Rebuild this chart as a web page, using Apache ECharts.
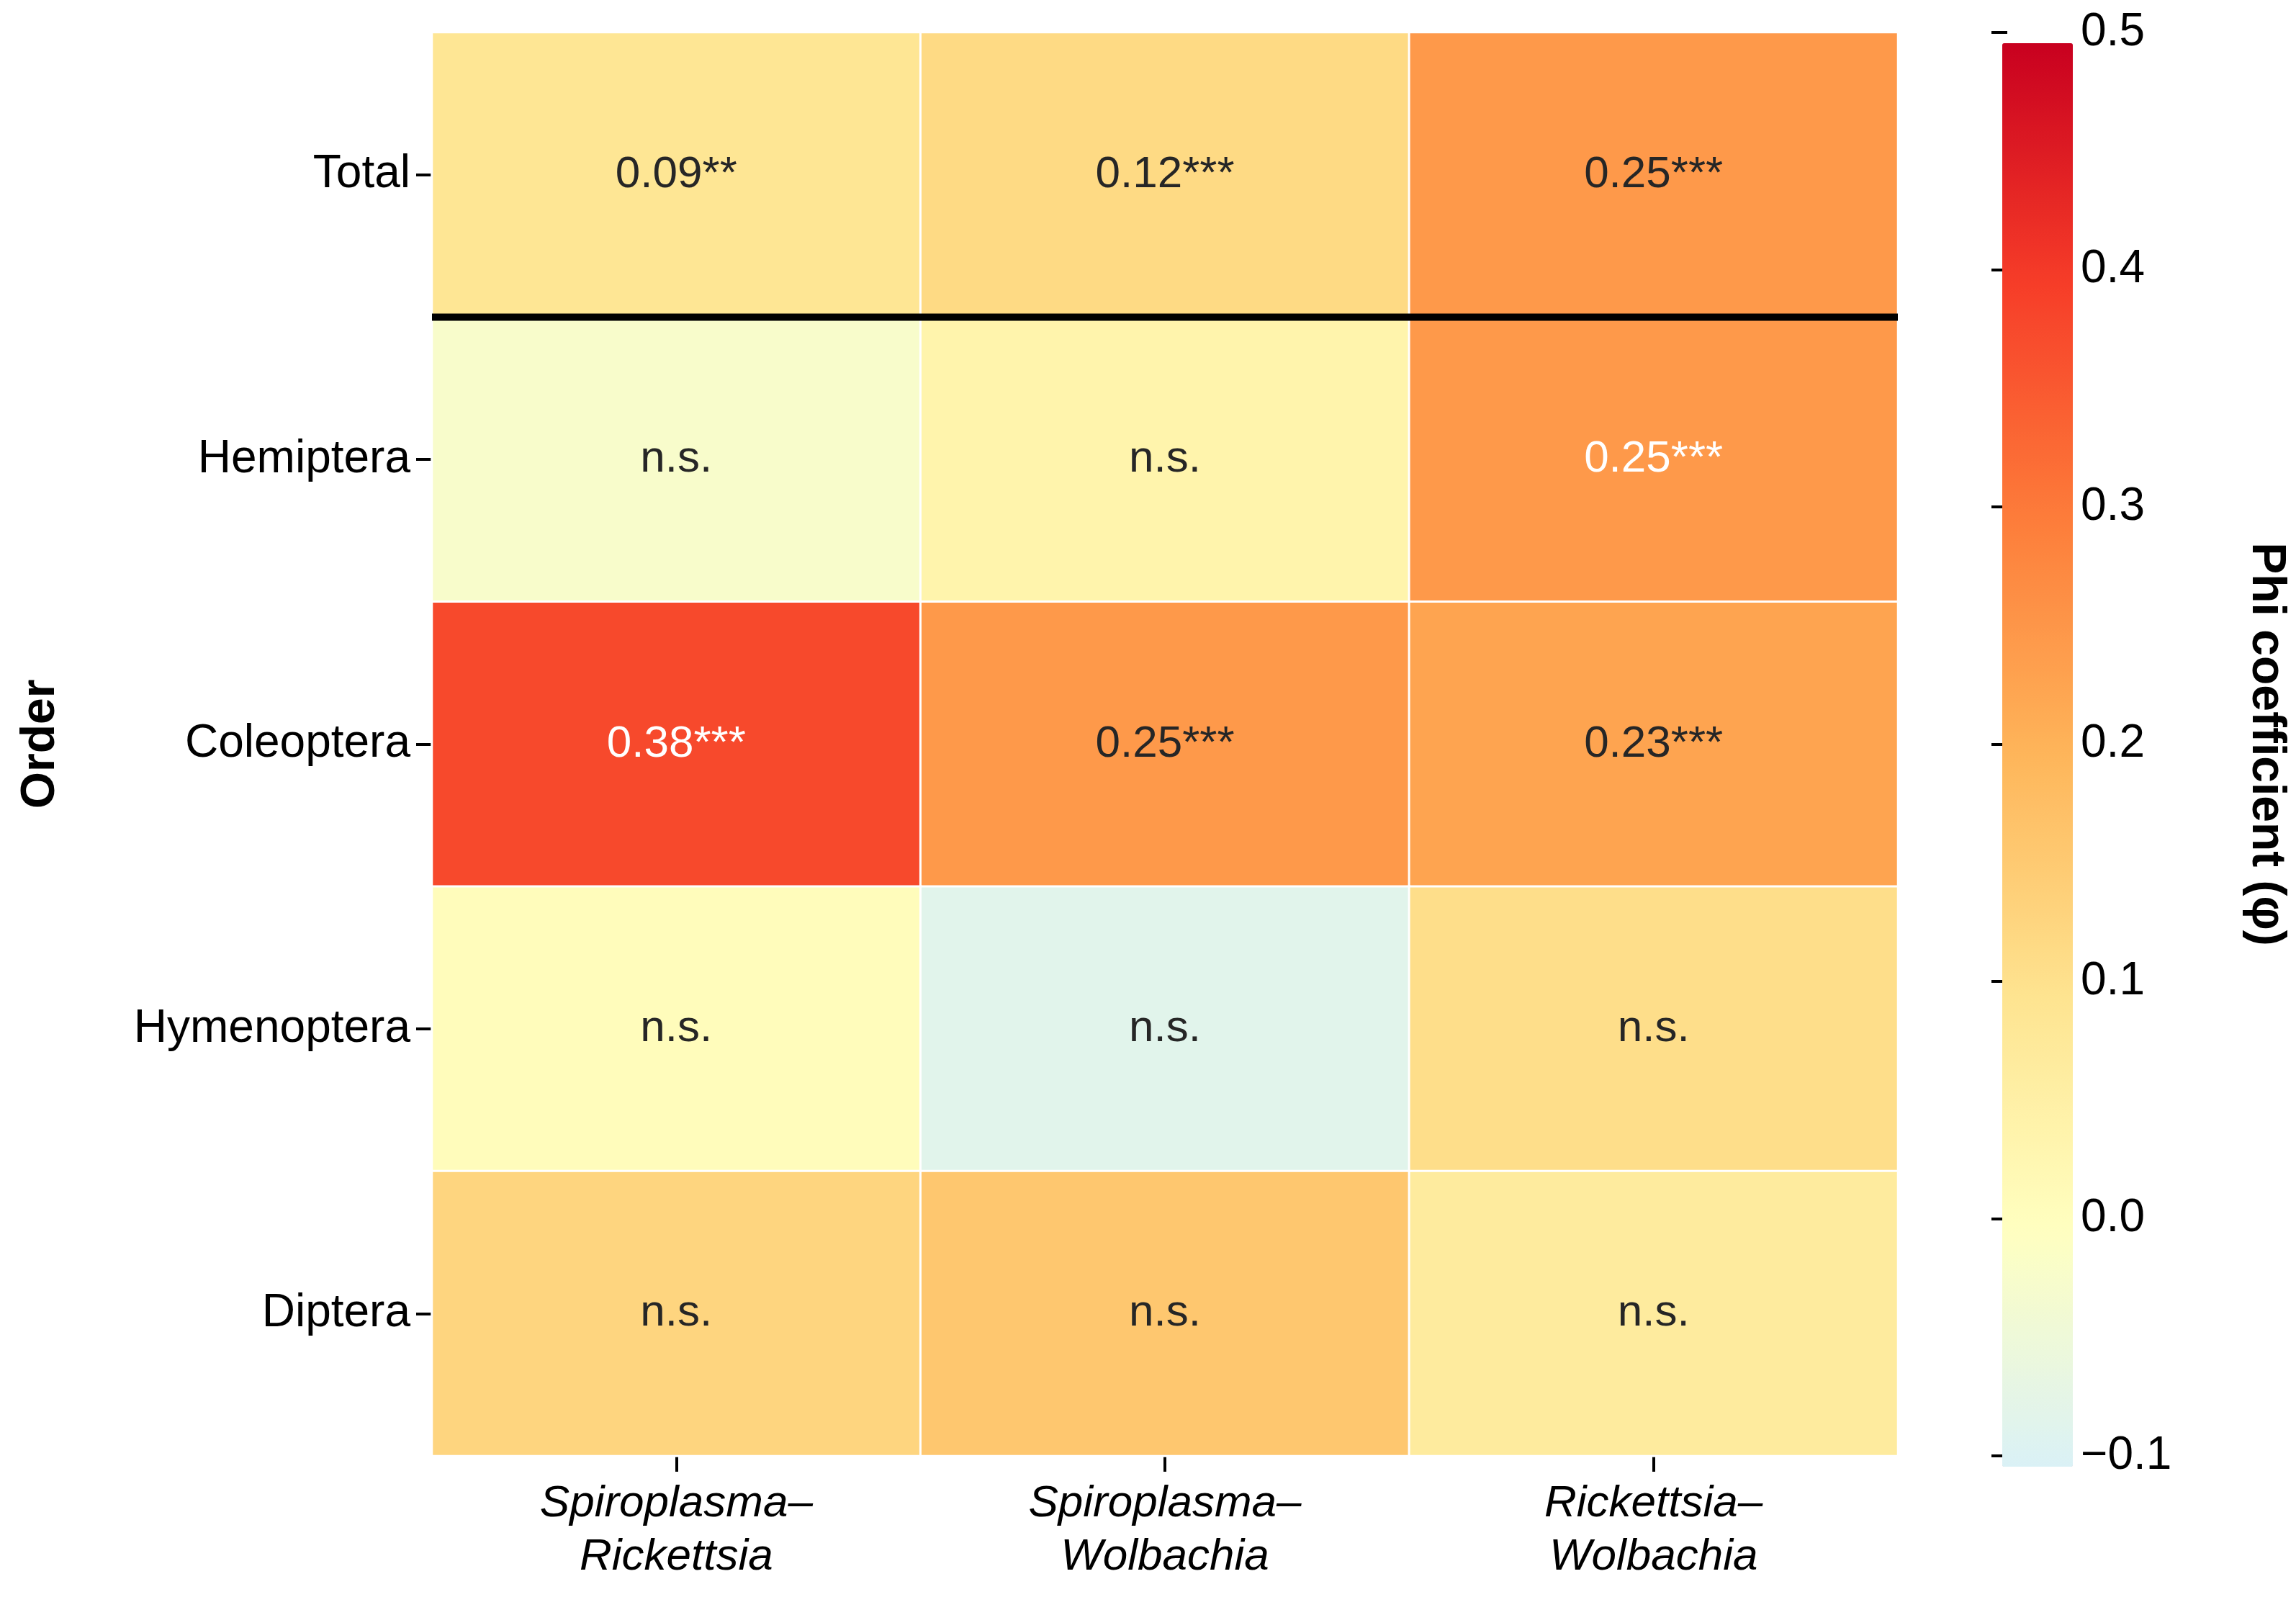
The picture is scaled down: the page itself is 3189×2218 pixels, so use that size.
<!DOCTYPE html>
<html>
<head>
<meta charset="utf-8">
<script src="https://cdn.jsdelivr.net/npm/echarts@6/dist/echarts.min.js"></script>
<style>html,body{margin:0;padding:0;background:#fff}#main{width:3189px;height:2218px}</style>
</head>
<body>
<div id="main"></div>
<script>
var pairs = ["Spiroplasma–\nRickettsia", "Spiroplasma–\nWolbachia", "Rickettsia–\nWolbachia"];
var orders = ["Total", "Hemiptera", "Coleoptera", "Hymenoptera", "Diptera"];
// phi values per order (estimated from colour where not significant)
var phiValues = [
  [0.09, 0.12, 0.25],
  [-0.02, 0.04, 0.25],
  [0.38, 0.25, 0.23],
  [0.01, -0.08, 0.11],
  [0.13, 0.16, 0.07]
];
var cellLabels = [
  ["0.09**", "0.12***", "0.25***"],
  ["n.s.", "n.s.", "0.25***"],
  ["0.38***", "0.25***", "0.23***"],
  ["n.s.", "n.s.", "n.s."],
  ["n.s.", "n.s.", "n.s."]
];
var whiteLabels = [[1, 2], [2, 0]];
var cmap = ["#daf1f6", "#ffffc0", "#fee38f", "#feb55a", "#fd7c3a", "#f63c28", "#c8001f"];

var FONT = "Liberation Sans";
var data = [];
phiValues.forEach(function (row, r) {
  row.forEach(function (v, c) {
    var white = whiteLabels.some(function (w) { return w[0] === r && w[1] === c; });
    data.push({ value: [c, r, v], label: { color: white ? "#fff" : "#262626" }, name: cellLabels[r][c] });
  });
});

var chart = echarts.init(document.getElementById("main"));
var grid0 = { left: 600, width: 2036, top: 45, height: 1977 };
chart.setOption({
  backgroundColor: "#fff",
  animation: false,
  grid: [
    grid0,
    { left: 2766, width: 98, top: 45, height: 1977 }
  ],
  xAxis: [
    {
      type: "category", data: pairs, gridIndex: 0,
      axisLine: { show: false },
      axisTick: { show: true, alignWithLabel: true, length: 22, lineStyle: { color: "#000", width: 4 } },
      axisLabel: { fontFamily: FONT, fontSize: 62, fontStyle: "italic", color: "#000", margin: 30, lineHeight: 74 },
      splitLine: { show: false }
    },
    { type: "value", gridIndex: 1, show: false, min: 0, max: 1 }
  ],
  yAxis: [
    {
      type: "category", data: orders, gridIndex: 0, inverse: true,
      axisLine: { show: false },
      axisTick: { show: true, alignWithLabel: true, length: 22, lineStyle: { color: "#000", width: 4 } },
      axisLabel: { fontFamily: FONT, fontSize: 64, color: "#000", margin: 30 },
      name: "Order", nameLocation: "middle", nameGap: 510, nameRotate: 90,
      nameTextStyle: { fontFamily: FONT, fontSize: 66, fontWeight: "bold", color: "#000" }
    },
    {
      type: "value", gridIndex: 1, position: "right", min: -0.1, max: 0.5, interval: 0.1,
      axisLine: { show: false },
      axisTick: { show: true, length: 22, lineStyle: { color: "#000", width: 4 } },
      axisLabel: {
        fontFamily: FONT, fontSize: 64, color: "#000", margin: 26,
        formatter: function (v) { return v.toFixed(1).replace("-", "−"); }
      },
      splitLine: { show: false },
      name: "Phi coefficient (φ)", nameLocation: "middle", nameGap: 250, nameRotate: -90,
      nameTextStyle: { fontFamily: FONT, fontSize: 66, fontWeight: "bold", color: "#000" }
    }
  ],
  visualMap: {
    type: "continuous", min: -0.1, max: 0.5, seriesIndex: 0, calculable: false,
    left: 2766, top: 45, itemWidth: 98, itemHeight: 1977, text: ["", ""], showLabel: false,
    inRange: { color: cmap }
  },
  series: [{
    type: "heatmap", xAxisIndex: 0, yAxisIndex: 0, data: data,
    itemStyle: { borderColor: "#fff", borderWidth: 3 },
    label: {
      show: true, fontFamily: FONT, fontSize: 62,
      formatter: function (p) { return p.name; }
    },
    emphasis: { disabled: true }
  }]
});

// thick separator between Total and the orders
var p0 = chart.convertToPixel({ gridIndex: 0 }, [0, 0]);
var p1 = chart.convertToPixel({ gridIndex: 0 }, [1, 1]);
var yMid = (p0[1] + p1[1]) / 2;
chart.setOption({
  graphic: [{
    type: "line", z: 100,
    shape: { x1: grid0.left, y1: yMid, x2: grid0.left + grid0.width, y2: yMid },
    style: { stroke: "#000", lineWidth: 10 }
  }]
});
</script>
</body>
</html>
